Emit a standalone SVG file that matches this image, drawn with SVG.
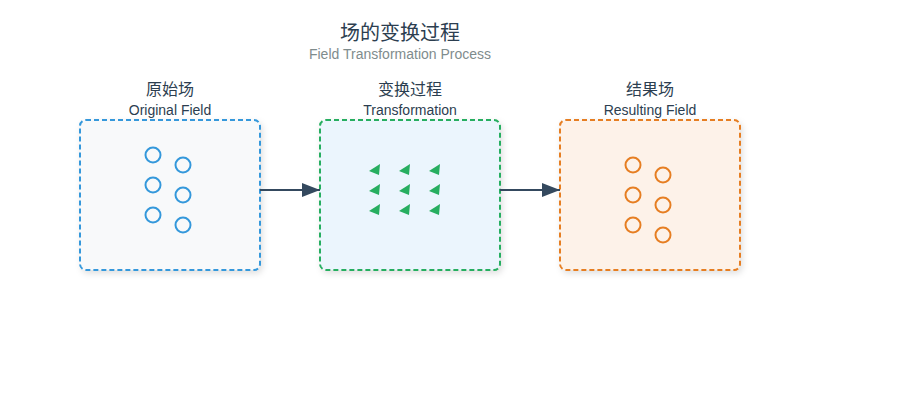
<svg xmlns="http://www.w3.org/2000/svg" width="900" height="400" viewBox="0 0 900 400">
<defs>
<filter id="sh" x="-10%" y="-10%" width="130%" height="130%">
<feDropShadow dx="2" dy="3" stdDeviation="3" flood-color="#000" flood-opacity="0.12"/>
</filter>
<marker id="ah" markerWidth="18" markerHeight="14" refX="18" refY="7" orient="auto" markerUnits="userSpaceOnUse">
<polygon points="0,0 18,7 0,14" fill="#34495e"/>
</marker>
<polygon id="tri" points="-6,1 5,-6 4,5"/>
</defs>
<style>
.t{font-family:"Liberation Sans","Noto Sans CJK SC",sans-serif;text-anchor:middle}
.title{font-size:20px;fill:#2c3e50}
.sub{font-size:14px;fill:#7f8c8d}
.lz{font-size:16px;fill:#2c3e50}
.le{font-size:14px;fill:#2c3e50}
.box{stroke-width:2;stroke-dasharray:5,3;filter:url(#sh)}
.cb{fill:none;stroke:#3498db;stroke-width:2}
.co{fill:none;stroke:#e67e22;stroke-width:2}
.tg{fill:#27ae60}
.conn{stroke:#34495e;stroke-width:2;fill:none}
</style>
<rect width="900" height="400" fill="#ffffff"/>
<text class="t title" x="400" y="40">场的变换过程</text>
<text class="t sub" x="400" y="59">Field Transformation Process</text>

<g id="original">
<text class="t lz" x="170" y="95">原始场</text>
<text class="t le" x="170" y="115">Original Field</text>
<rect class="box" x="80" y="120" width="180" height="150" rx="6" fill="#f8f9fa" stroke="#3498db"/>
<circle class="cb" cx="153" cy="155" r="7.5"/>
<circle class="cb" cx="153" cy="185" r="7.5"/>
<circle class="cb" cx="153" cy="215" r="7.5"/>
<circle class="cb" cx="183" cy="165" r="7.5"/>
<circle class="cb" cx="183" cy="195" r="7.5"/>
<circle class="cb" cx="183" cy="225" r="7.5"/>
</g>

<g id="transformation">
<text class="t lz" x="410" y="95">变换过程</text>
<text class="t le" x="410" y="115">Transformation</text>
<rect class="box" x="320" y="120" width="180" height="150" rx="6" fill="#ebf5fd" stroke="#27ae60"/>
<use href="#tri" class="tg" x="375" y="170"/>
<use href="#tri" class="tg" x="405" y="170"/>
<use href="#tri" class="tg" x="435" y="170"/>
<use href="#tri" class="tg" x="375" y="190"/>
<use href="#tri" class="tg" x="405" y="190"/>
<use href="#tri" class="tg" x="435" y="190"/>
<use href="#tri" class="tg" x="375" y="210"/>
<use href="#tri" class="tg" x="405" y="210"/>
<use href="#tri" class="tg" x="435" y="210"/>
</g>

<g id="result">
<text class="t lz" x="650" y="95">结果场</text>
<text class="t le" x="650" y="115">Resulting Field</text>
<rect class="box" x="560" y="120" width="180" height="150" rx="6" fill="#fdf2e9" stroke="#e67e22"/>
<circle class="co" cx="633" cy="165" r="7.5"/>
<circle class="co" cx="633" cy="195" r="7.5"/>
<circle class="co" cx="633" cy="225" r="7.5"/>
<circle class="co" cx="663" cy="175" r="7.5"/>
<circle class="co" cx="663" cy="205" r="7.5"/>
<circle class="co" cx="663" cy="235" r="7.5"/>
</g>

<g id="connectors">
<line class="conn" x1="260" y1="190" x2="320" y2="190" marker-end="url(#ah)"/>
<line class="conn" x1="500" y1="190" x2="560" y2="190" marker-end="url(#ah)"/>
</g>
</svg>
